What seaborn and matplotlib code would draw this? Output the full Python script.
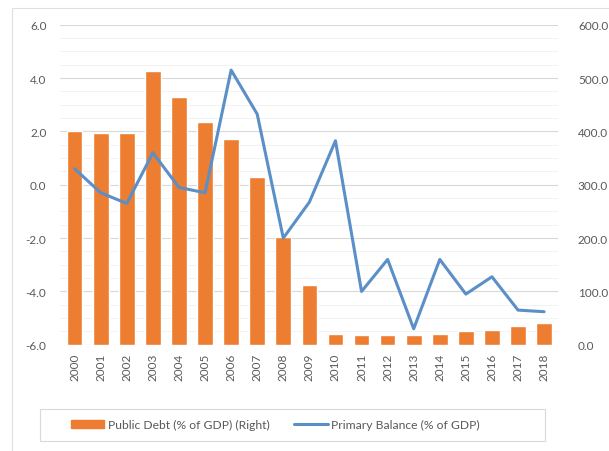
import numpy as np
import pandas as pd
import matplotlib
matplotlib.use("Agg")
import matplotlib.pyplot as plt
import seaborn as sns
from matplotlib.patches import Patch, Rectangle
from matplotlib.lines import Line2D

# values
years = [str(y) for y in range(2000, 2019)]
public_debt = [400, 397, 398, 514, 465, 418, 386, 315, 202, 112,
               20, 18, 18, 18, 20, 25, 28, 36, 41]
primary_balance = [0.6, -0.3, -0.7, 1.2, -0.1, -0.3, 4.3, 2.65, -2.0, -0.65,
                   1.65, -4.0, -2.8, -5.4, -2.8, -4.1, -3.45, -4.7, -4.76]

bar_color = "#ED7D31"
line_color = "#5B8FC7"
text_color = "#595959"

sns.set_theme(style="white")
plt.rcParams["font.family"] = ["Lato", "DejaVu Sans"]

df = pd.DataFrame({"year": years, "debt": public_debt, "balance": primary_balance})

fig = plt.figure(figsize=(6.09, 4.52), dpi=100)
ax = fig.add_axes([0.099, 0.235, 0.818, 0.708])

# bars on the right-hand scale
sns.barplot(data=df, x="year", y="debt", color=bar_color, saturation=1,
            width=0.6, ax=ax)
ax.set_ylim(0, 600)
ax.set_yticks(np.arange(0, 601, 100))
ax.set_yticks(np.arange(0, 601, 25), minor=True)
ax.set_yticklabels([f"{v:.1f}" for v in np.arange(0, 601, 100)])
ax.grid(axis="y", which="major", color="#d9d9d9", lw=0.8)
ax.grid(axis="y", which="minor", color="#f0f0f0", lw=0.6)
ax.set_axisbelow(True)
ax.set_xlabel("")
ax.set_ylabel("")
ax.tick_params(axis="x", labelrotation=90, labelsize=8.5, colors=text_color, length=0, pad=6)
for s in ax.spines.values():
    s.set_visible(False)
ax.set_xlim(-0.55, len(years) - 0.45)

# line on the left-hand scale
ax2 = ax.twinx()
sns.lineplot(x=np.arange(len(years)), y=df["balance"], color=line_color,
             lw=2.2, ax=ax2)
ax2.set_ylim(-6, 6)
ax2.set_yticks(np.arange(-6, 6.1, 2))
ax2.set_yticklabels([f"{v:.1f}" for v in np.arange(-6, 6.1, 2)])
ax2.set_ylabel("")
ax2.grid(False)
for s in ax2.spines.values():
    s.set_visible(False)

# twinx moves the host ticks to the left, so swap them back here
ax.yaxis.tick_right()
ax2.yaxis.tick_left()
ax.tick_params(axis="y", which="both", labelsize=8.5, colors=text_color, length=0, pad=14)
ax2.tick_params(axis="y", labelsize=8.5, colors=text_color, length=0, pad=10)

# legend below, with its own box
handles = [Patch(facecolor=bar_color, edgecolor=bar_color),
           Line2D([0], [0], color=line_color, lw=2.2)]
labels = ["Public Debt (% of GDP) (Right)", "Primary Balance (% of GDP)"]
fig.legend(handles, labels, loc="center", bbox_to_anchor=(0.452, 0.058),
           ncol=2, frameon=False, fontsize=8.7, handlelength=2.8,
           handletextpad=0.3, columnspacing=2.0, labelcolor=text_color)
fig.patches.append(Rectangle((0.066, 0.022), 0.829, 0.071, transform=fig.transFigure,
                             fill=False, edgecolor="#d9d9d9", lw=0.8))

# outer chart border
fig.patches.append(Rectangle((0.02, -0.05), 1.2, 1.03, transform=fig.transFigure,
                             fill=False, edgecolor="#e0e0e0", lw=0.8))

fig.savefig("out.png", dpi=100)
